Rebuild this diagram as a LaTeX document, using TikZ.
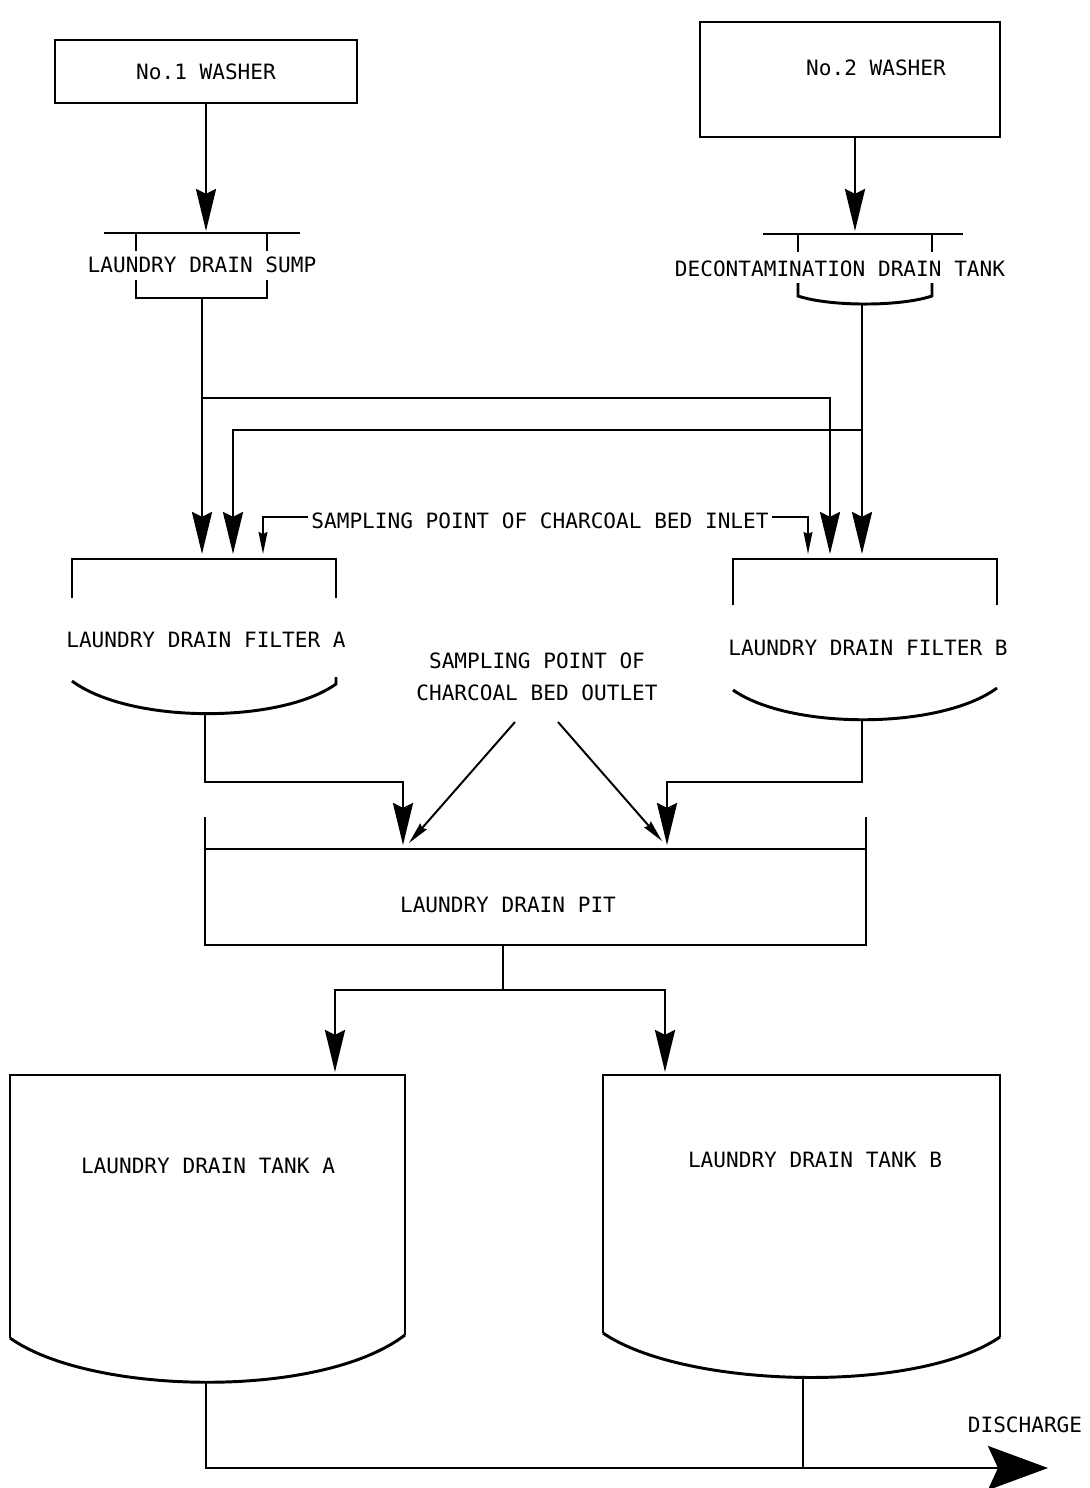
\documentclass[tikz,border=0pt]{standalone}
\usepackage{fontspec}
\setmonofont{DejaVu Sans Mono}
\usetikzlibrary{arrows.meta}
\begin{document}
\begin{tikzpicture}[x=0.025cm,y=-0.025cm,
	box/.style={draw,line width=2pt,minimum width=7.55cm,minimum height=1.575cm},
	txt/.style={inner sep=2pt,font=\ttfamily\fontsize{15pt}{18pt}\selectfont},
	pipe/.style={line width=2.1pt},
	thin/.style={line width=1.4pt},
	flow/.style={pipe,-{Stealth[length=1.05cm,width=0.5cm,inset=0.12cm]}},
	lead/.style={thin,-{Stealth[length=0.55cm,width=0.22cm,inset=0.05cm]}}]
	\useasboundingbox (0,0) rectangle (1090,1488);
	% washers
	\node[box,txt] (w1) at (206,71.5) {No.1 WASHER};
	\node[box,minimum width=7.5cm,minimum height=2.875cm] (w2) at (850,79.5) {};
	\node[txt] (w2t) at (876,68) {No.2 WASHER};
	% sump and decontamination tank
	\coordinate (s1) at (206,231);
	\coordinate (s2) at (855,231);
	\draw[flow] (w1.south) -- (s1);
	\draw[flow] (s2 |- w2.south) -- (s2);
	\draw[pipe] (104,233) -- (300,233) (136,233) -- (136,251) (267,233) -- (267,251);
	\draw[pipe] (136,280) -- (136,298) -- (267,298) -- (267,280);
	\node[txt] (sump) at (202,265) {LAUNDRY DRAIN SUMP};
	\draw[pipe] (763,234) -- (963,234) (798,234) -- (798,252) (932,234) -- (932,252);
	\draw[pipe] (798,283) -- (798,296) .. controls (830,306.7) and (900,306.7) .. (932,296) -- (932,283);
	\node[txt] (dct) at (840,269) {DECONTAMINATION DRAIN TANK};
	\coordinate (so) at (202,298);
	\coordinate (do) at (862,304);
	% feed lines to the filters
	\coordinate (fa1) at (202,554);
	\coordinate (fa2) at (233,554);
	\coordinate (fb1) at (830,554);
	\coordinate (fb2) at (862,554);
	\draw[flow] (so) -- (fa1);
	\draw[flow] (so |- 0,398) -| (fb1);
	\draw[flow] (do) -- (fb2);
	\draw[flow] (do |- 0,430) -| (fa2);
	\node[txt] (inl) at (540,521) {SAMPLING POINT OF CHARCOAL BED INLET};
	\draw[lead] ([yshift=0.1cm]inl.west) -| (263,554);
	\draw[lead] ([yshift=0.1cm]inl.east) -| (808,554);
	% filters
	\draw[pipe] (72,598) -- (72,559) -- (336,559) -- (336,598);
	\draw[pipe] (72,681) .. controls (130,724) and (280,724) .. (336,684) -- (336,677);
	\node[txt] (fa) at (206,640) {LAUNDRY DRAIN FILTER A};
	\draw[pipe] (733,605) -- (733,559) -- (997,559) -- (997,605);
	\draw[pipe] (733,690) .. controls (790,730) and (940,730) .. (997,688);
	\node[txt] (fb) at (868,648) {LAUNDRY DRAIN FILTER B};
	\node[txt,align=center] (outl) at (537,677) {SAMPLING POINT OF\\[0.16cm]CHARCOAL BED OUTLET};
	% pit
	\coordinate (pa) at (403,845);
	\coordinate (pb) at (667,845);
	\draw[flow] (205,714) |- (pa |- 0,782) -- (pa);
	\draw[flow] (862,720) |- (pb |- 0,782) -- (pb);
	\draw[lead] (515,722) -- (409,843);
	\draw[lead] (558,722) -- (662,841);
	\draw[pipe] (205,817) -- (205,945) -- (866,945) -- (866,817) (205,849) -- (866,849);
	\node[txt] (pit) at (508,905) {LAUNDRY DRAIN PIT};
	% tanks
	\coordinate (po) at (503,945);
	\coordinate (ta) at (335,1072);
	\coordinate (tb) at (665,1072);
	\draw[pipe] (po) -- (503,990);
	\draw[flow] (503,990) -| (ta);
	\draw[flow] (503,990) -| (tb);
	\draw[pipe] (10,1338) -- (10,1075) -- (405,1075) -- (405,1335);
	\draw[pipe] (10,1338) .. controls (90,1395) and (320,1400) .. (405,1335);
	\node[txt] (tka) at (208,1166) {LAUNDRY DRAIN TANK A};
	\draw[pipe] (603,1333) -- (603,1075) -- (1000,1075) -- (1000,1337);
	\draw[pipe] (603,1333) .. controls (683,1388) and (915,1395) .. (1000,1337);
	\node[txt] (tkb) at (815,1160) {LAUNDRY DRAIN TANK B};
	% discharge
	\coordinate (ao) at (206,1383);
	\coordinate (bo) at (803,1377);
	\coordinate (dx) at (1048,1468);
	\node[txt] (dis) at (1025,1425) {DISCHARGE};
	\draw[pipe,-{Stealth[length=1.5cm,width=1.1cm,inset=0.25cm]}] (ao) |- (dx);
	\draw[thin] (bo) -- (bo |- dx);
\end{tikzpicture}
\end{document}
